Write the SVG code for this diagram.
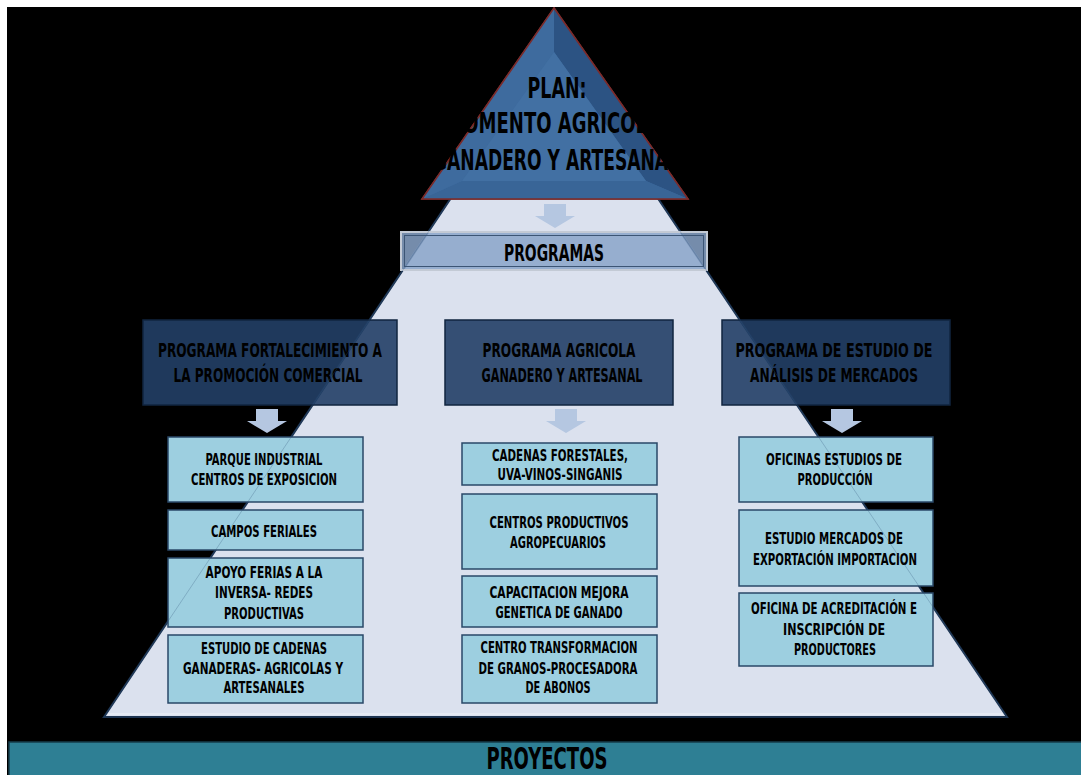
<svg xmlns="http://www.w3.org/2000/svg" xmlns:xlink="http://www.w3.org/1999/xlink" width="1081" height="775" viewBox="0 0 1081 775">
<style>
.t{font-family:"Liberation Sans Narrow","DejaVu Sans Condensed","Liberation Sans",sans-serif;font-weight:bold;fill:#000;text-anchor:middle}
.s28{font-size:28px}.s24{font-size:23px}.s19{font-size:19px}.s15{font-size:15px}.s33{font-size:30px}
.prog{fill:#223f66;fill-opacity:.9;stroke:#10253f;stroke-width:1.5}
.proj{fill:#9dcfe0;stroke:#2a4868;stroke-width:1.5}
.arr{fill:#b5c7e1}
</style>
<defs>
<path id="darr" d="M-11,0 H11 V12 H20 L0,24 L-20,12 H-11 Z"/>
</defs>
<rect x="0" y="0" width="1081" height="775" fill="#ffffff"/>
<rect x="7" y="7" width="1074" height="768" fill="#000000"/>

<g id="pyramid">
<polygon points="554,44 1007,717 104,717" fill="#dbe1ee" stroke="#1c3350" stroke-width="2"/>
<line x1="108" y1="714" x2="1003" y2="714" stroke="#eef2f8" stroke-width="1"/>
</g>

<g id="connectors">
<use xlink:href="#darr" href="#darr" class="arr" x="555" y="204"/>
<use xlink:href="#darr" href="#darr" class="arr" x="267" y="409"/>
<use xlink:href="#darr" href="#darr" class="arr" x="566" y="409"/>
<use xlink:href="#darr" href="#darr" class="arr" x="842" y="409"/>
</g>

<g id="programas">
<rect x="401" y="232" width="306" height="38" fill="#8aa5c9" fill-opacity="0.85" stroke="#c3cad5" stroke-width="2"/>
<rect x="404.5" y="235.5" width="299" height="31" fill="none" stroke="#3c5575" stroke-width="1"/>
<text class="t s24" x="554" y="261" textLength="100" lengthAdjust="spacingAndGlyphs">PROGRAMAS</text>
</g>

<g id="prog1">
<rect class="prog" x="143" y="320" width="254" height="85"/>
<text class="t s19" x="270" y="357" textLength="224" lengthAdjust="spacingAndGlyphs">PROGRAMA FORTALECIMIENTO A</text>
<text class="t s19" x="268" y="382" textLength="189" lengthAdjust="spacingAndGlyphs">LA PROMOCIÓN COMERCIAL</text>
</g>
<g id="prog2">
<rect class="prog" x="445" y="320" width="228" height="85"/>
<text class="t s19" x="559" y="357" textLength="153" lengthAdjust="spacingAndGlyphs">PROGRAMA AGRICOLA</text>
<text class="t s19" x="562" y="382" textLength="161" lengthAdjust="spacingAndGlyphs">GANADERO Y ARTESANAL</text>
</g>
<g id="prog3">
<rect class="prog" x="722" y="320" width="228" height="85"/>
<text class="t s19" x="834" y="357" textLength="197" lengthAdjust="spacingAndGlyphs">PROGRAMA DE ESTUDIO DE</text>
<text class="t s19" x="834" y="382" textLength="168" lengthAdjust="spacingAndGlyphs">ANÁLISIS DE MERCADOS</text>
</g>

<g id="p1a">
<rect class="proj" x="168" y="437" width="195" height="65"/>
<text class="t s15" x="264" y="465" textLength="117" lengthAdjust="spacingAndGlyphs">PARQUE INDUSTRIAL</text>
<text class="t s15" x="264" y="485" textLength="146" lengthAdjust="spacingAndGlyphs">CENTROS DE EXPOSICION</text>
</g>
<g id="p1b">
<rect class="proj" x="168" y="510" width="195" height="40"/>
<text class="t s15" x="264" y="537" textLength="106" lengthAdjust="spacingAndGlyphs">CAMPOS FERIALES</text>
</g>
<g id="p1c">
<rect class="proj" x="168" y="558" width="195" height="69"/>
<text class="t s15" x="264" y="578" textLength="117" lengthAdjust="spacingAndGlyphs">APOYO FERIAS A LA</text>
<text class="t s15" x="264" y="598" textLength="98" lengthAdjust="spacingAndGlyphs">INVERSA- REDES</text>
<text class="t s15" x="264" y="619" textLength="80" lengthAdjust="spacingAndGlyphs">PRODUCTIVAS</text>
</g>
<g id="p1d">
<rect class="proj" x="168" y="635" width="195" height="68"/>
<text class="t s15" x="264" y="654" textLength="126" lengthAdjust="spacingAndGlyphs">ESTUDIO DE CADENAS</text>
<text class="t s15" x="263" y="674" textLength="160" lengthAdjust="spacingAndGlyphs">GANADERAS- AGRICOLAS Y</text>
<text class="t s15" x="264" y="693" textLength="81" lengthAdjust="spacingAndGlyphs">ARTESANALES</text>
</g>

<g id="p2a">
<rect class="proj" x="462" y="443" width="195" height="42"/>
<text class="t s15" x="560" y="461" textLength="136" lengthAdjust="spacingAndGlyphs">CADENAS FORESTALES,</text>
<text class="t s15" x="560" y="480" textLength="125" lengthAdjust="spacingAndGlyphs">UVA-VINOS-SINGANIS</text>
</g>
<g id="p2b">
<rect class="proj" x="462" y="494" width="195" height="75"/>
<text class="t s15" x="559" y="528" textLength="139" lengthAdjust="spacingAndGlyphs">CENTROS PRODUCTIVOS</text>
<text class="t s15" x="558" y="548" textLength="96" lengthAdjust="spacingAndGlyphs">AGROPECUARIOS</text>
</g>
<g id="p2c">
<rect class="proj" x="462" y="576" width="195" height="51"/>
<text class="t s15" x="559" y="598" textLength="139" lengthAdjust="spacingAndGlyphs">CAPACITACION MEJORA</text>
<text class="t s15" x="559" y="618" textLength="127" lengthAdjust="spacingAndGlyphs">GENETICA DE GANADO</text>
</g>
<g id="p2d">
<rect class="proj" x="462" y="635" width="195" height="68"/>
<text class="t s15" x="559" y="653" textLength="157" lengthAdjust="spacingAndGlyphs">CENTRO TRANSFORMACION</text>
<text class="t s15" x="558" y="674" textLength="159" lengthAdjust="spacingAndGlyphs">DE GRANOS-PROCESADORA</text>
<text class="t s15" x="558" y="693" textLength="65" lengthAdjust="spacingAndGlyphs">DE ABONOS</text>
</g>

<g id="p3a">
<rect class="proj" x="739" y="437" width="194" height="65"/>
<text class="t s15" x="834" y="465" textLength="136" lengthAdjust="spacingAndGlyphs">OFICINAS ESTUDIOS DE</text>
<text class="t s15" x="835" y="485" textLength="75" lengthAdjust="spacingAndGlyphs">PRODUCCIÓN</text>
</g>
<g id="p3b">
<rect class="proj" x="739" y="510" width="194" height="76"/>
<text class="t s15" x="834" y="544" textLength="138" lengthAdjust="spacingAndGlyphs">ESTUDIO MERCADOS DE</text>
<text class="t s15" x="835" y="565" textLength="164" lengthAdjust="spacingAndGlyphs">EXPORTACIÓN IMPORTACION</text>
</g>
<g id="p3c">
<rect class="proj" x="739" y="593" width="194" height="73"/>
<text class="t s15" x="834" y="614" textLength="166" lengthAdjust="spacingAndGlyphs">OFICINA DE ACREDITACIÓN E</text>
<text class="t s15" x="834" y="635" textLength="102" lengthAdjust="spacingAndGlyphs">INSCRIPCIÓN DE</text>
<text class="t s15" x="835" y="655" textLength="82" lengthAdjust="spacingAndGlyphs">PRODUCTORES</text>
</g>

<polyline points="104,717 554,44 1007,717" fill="none" stroke="#33557a" stroke-width="0.8" stroke-opacity="0.35"/>

<g id="plan">
<polygon points="554,8 688,199 422,199" fill="#3d6a9d" stroke="#7b2b2b" stroke-width="1.5"/>
<polygon points="554,8 688,199 646,181 554,52" fill="#2c5383"/>
<polygon points="422,199 688,199 646,181 462,181" fill="#396597"/>
<polygon points="554,8 422,199 462,181 554,52" fill="#3e6b9e"/>
<polygon points="554,52 646,181 462,181" fill="#4270a3"/>
<polygon points="554,8 688,199 422,199" fill="none" stroke="#7b2b2b" stroke-width="1.5"/>
<text class="t s28" x="557" y="98" textLength="59" lengthAdjust="spacingAndGlyphs">PLAN:</text>
<text class="t s28" x="556" y="133" textLength="210" lengthAdjust="spacingAndGlyphs">FOMENTO AGRICOLA</text>
<text class="t s28" x="556" y="170" textLength="246" lengthAdjust="spacingAndGlyphs">GANADERO Y ARTESANAL</text>
</g>

<g id="proyectos">
<rect x="9" y="742" width="1080" height="40" fill="#2e7f94" stroke="#163c4a" stroke-width="1.5"/>
<text class="t s33" x="547" y="769" textLength="121" lengthAdjust="spacingAndGlyphs">PROYECTOS</text>
</g>
</svg>
